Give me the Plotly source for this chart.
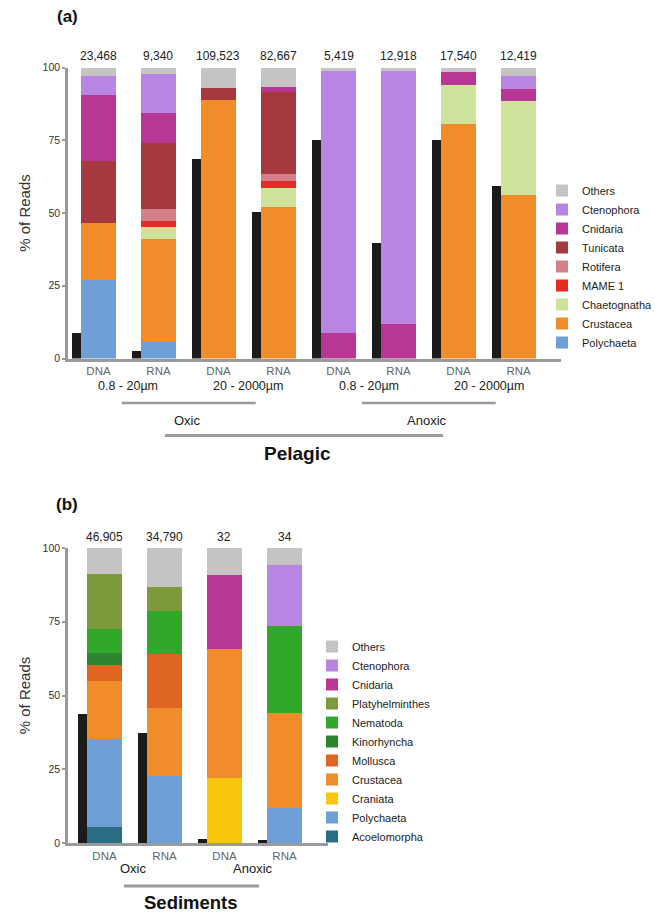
import plotly.graph_objects as go

W, H = 655, 915
FONT = "Liberation Sans, Arial, Helvetica, sans-serif"

# ---------------- Panel (a): Pelagic ----------------
pel_samples = ["DNA", "RNA", "DNA", "RNA", "DNA", "RNA", "DNA", "RNA"]
pel_totals = ["23,468", "9,340", "109,523", "82,667", "5,419", "12,918", "17,540", "12,419"]
pel_black = [9.1, 2.6, 68.9, 50.4, 75.4, 40.0, 75.4, 59.6]
pel_sizes = ["0.8 - 20µm", "20 - 2000µm", "0.8 - 20µm", "20 - 2000µm"]
pel_oxygen = ["Oxic", "Anoxic"]

pel_polychaeta = [27.1, 5.7, 0, 0, 0, 0, 0, 0]
pel_crustacea = [19.5, 35.6, 88.9, 52.1, 0, 0, 80.9, 56.2]
pel_chaetognatha = [0, 3.9, 0, 6.5, 0, 0, 13.1, 32.3]
pel_mame1 = [0, 2.1, 0, 2.4, 0, 0, 0, 0]
pel_rotifera = [0, 4.1, 0, 2.7, 0, 0, 0, 0]
pel_tunicata = [21.3, 22.7, 4.4, 27.9, 0, 0, 0, 0]
pel_cnidaria = [22.7, 10.3, 0, 2.0, 9.1, 12.2, 4.5, 4.4]
pel_ctenophora = [6.5, 13.7, 0, 0, 90.0, 86.6, 0, 4.2]
pel_others = [2.9, 1.9, 6.7, 6.4, 0.9, 1.2, 1.5, 2.9]

# ---------------- Panel (b): Sediments ----------------
sed_samples = ["DNA", "RNA", "DNA", "RNA"]
sed_totals = ["46,905", "34,790", "32", "34"]
sed_black = [43.7, 37.3, 1.4, 1.0]
sed_oxygen = ["Oxic", "Anoxic"]

sed_acoelomorpha = [5.4, 0, 0, 0]
sed_polychaeta = [29.9, 22.7, 0, 12.0]
sed_craniata = [0, 0, 22.0, 0]
sed_crustacea = [19.6, 23.1, 43.8, 32.1]
sed_mollusca = [5.4, 18.4, 0, 0]
sed_kinorhyncha = [4.1, 0, 0, 0]
sed_nematoda = [8.1, 14.4, 0, 29.5]
sed_platyhelminthes = [18.7, 8.2, 0, 0]
sed_cnidaria = [0, 0, 25.0, 0]
sed_ctenophora = [0, 0, 0, 20.6]
sed_others = [8.8, 13.2, 9.2, 5.8]

COLORS = {
    "Others": "#C5C4C2",
    "Ctenophora": "#B886E2",
    "Cnidaria": "#B83795",
    "Tunicata": "#A5393F",
    "Rotifera": "#D48088",
    "MAME 1": "#E52B25",
    "Chaetognatha": "#CDE39C",
    "Crustacea": "#F18C2A",
    "Polychaeta": "#6E9FD6",
    "Platyhelminthes": "#7D9A3C",
    "Nematoda": "#32A82A",
    "Kinorhyncha": "#2D8431",
    "Mollusca": "#DE6620",
    "Craniata": "#F8C50F",
    "Acoelomorpha": "#2A6C82",
}
BLACK = "#1C1A1B"

pel_stack = [
    ("Polychaeta", pel_polychaeta), ("Crustacea", pel_crustacea),
    ("Chaetognatha", pel_chaetognatha), ("MAME 1", pel_mame1),
    ("Rotifera", pel_rotifera), ("Tunicata", pel_tunicata),
    ("Cnidaria", pel_cnidaria), ("Ctenophora", pel_ctenophora),
    ("Others", pel_others),
]
sed_stack = [
    ("Acoelomorpha", sed_acoelomorpha), ("Polychaeta", sed_polychaeta),
    ("Craniata", sed_craniata), ("Crustacea", sed_crustacea),
    ("Mollusca", sed_mollusca), ("Kinorhyncha", sed_kinorhyncha),
    ("Nematoda", sed_nematoda), ("Platyhelminthes", sed_platyhelminthes),
    ("Cnidaria", sed_cnidaria), ("Ctenophora", sed_ctenophora),
    ("Others", sed_others),
]

STACK_W = 35 / 60
BLACK_W = 9 / 60
BLACK_OFF = -22 / 60


def px_x(p):
    return p / W


def px_y(p):
    return 1 - p / H


fig = go.Figure()

pel_x = list(range(len(pel_samples)))
sed_x = list(range(len(sed_samples)))

fig.add_trace(go.Bar(x=[i + BLACK_OFF for i in pel_x], y=pel_black, width=BLACK_W,
                     marker=dict(color=BLACK, line=dict(width=0)), showlegend=False,
                     xaxis="x", yaxis="y", name="fraction"))
for name, vals in pel_stack:
    fig.add_trace(go.Bar(x=pel_x, y=vals, width=STACK_W, name=name,
                         marker=dict(color=COLORS[name], line=dict(width=0)),
                         xaxis="x", yaxis="y", legend="legend"))

fig.add_trace(go.Bar(x=[i + BLACK_OFF for i in sed_x], y=sed_black, width=BLACK_W,
                     marker=dict(color=BLACK, line=dict(width=0)), showlegend=False,
                     xaxis="x2", yaxis="y2", name="fraction"))
for name, vals in sed_stack:
    fig.add_trace(go.Bar(x=sed_x, y=vals, width=STACK_W, name=name,
                         marker=dict(color=COLORS[name], line=dict(width=0)),
                         xaxis="x2", yaxis="y2", legend="legend2"))

AX = "#9A9A9A"
common_x = dict(showgrid=False, zeroline=False, showline=True, linecolor=AX, linewidth=2.5,
                ticks="", tickfont=dict(size=11.5, color="#666666", family=FONT),
                fixedrange=True, automargin=False)
common_y = dict(showgrid=False, zeroline=False, showline=True, linecolor=AX, linewidth=2.5,
                ticks="outside", ticklen=3, tickwidth=2, tickcolor=AX, range=[0, 100],
                tickvals=[0, 25, 50, 75, 100], tickfont=dict(size=10.5, color="#333333", family=FONT),
                title=dict(text="% of Reads", font=dict(size=15, color="#333333", family=FONT), standoff=9),
                fixedrange=True, automargin=False)

fig.update_layout(
    width=W, height=H, margin=dict(l=0, r=0, t=0, b=0, autoexpand=False),
    paper_bgcolor="white", plot_bgcolor="white",
    barmode="stack", bargap=0,
    font=dict(family=FONT, color="#222222"),
    xaxis=dict(domain=[px_x(68), px_x(561)], range=[-0.508, 7.708],
               tickvals=pel_x, ticktext=pel_samples, anchor="y", **common_x),
    yaxis=dict(domain=[px_y(358.5), px_y(67.5)], anchor="x", **common_y),
    xaxis2=dict(domain=[px_x(68), px_x(328)], range=[-0.608, 3.725],
                tickvals=sed_x, ticktext=sed_samples, anchor="y2", **common_x),
    yaxis2=dict(domain=[px_y(843), px_y(548)], anchor="x2", **common_y),
    legend=dict(x=px_x(542), y=px_y(176), xanchor="left", yanchor="top",
                traceorder="reversed", font=dict(size=11, color="#222222", family=FONT),
                bgcolor="rgba(0,0,0,0)"),
    legend2=dict(x=px_x(312), y=px_y(632), xanchor="left", yanchor="top",
                 traceorder="reversed", font=dict(size=11, color="#222222", family=FONT),
                 bgcolor="rgba(0,0,0,0)"),
)

ann = []
shapes = []


def label(x, y, text, size, color="#222222", xref="paper", yref="paper", **kw):
    d = dict(x=x, y=y, xref=xref, yref=yref, text=text, showarrow=False,
             xanchor="center", yanchor="middle", font=dict(size=size, color=color, family=FONT))
    d.update(kw)
    ann.append(d)


# totals above bars
for i, t in zip(pel_x, pel_totals):
    label(i, 100, t, 12, xref="x", yref="y", yanchor="bottom", yshift=2)
for i, t in zip(sed_x, sed_totals):
    label(i, 100, t, 12, xref="x2", yref="y2", yanchor="bottom", yshift=2)

# panel labels
label(px_x(67), px_y(17), "<b>(a)</b>", 17, color="#111111")
label(px_x(67), px_y(505), "<b>(b)</b>", 17, color="#111111")

# size-fraction labels (pelagic)
for k, s in enumerate(pel_sizes):
    label(2 * k + 0.5, px_y(386), s, 12.5, xref="x")
# oxic/anoxic (pelagic)
for k, s in enumerate(pel_oxygen):
    label(4 * k + 1.48, px_y(420), s, 13, xref="x")
    shapes.append(dict(type="line", xref="x", yref="paper",
                       x0=4 * k + 0.39, x1=4 * k + 2.62, y0=px_y(403), y1=px_y(403),
                       line=dict(color=AX, width=2.5)))
shapes.append(dict(type="line", xref="x", yref="paper", x0=1.11, x1=5.74,
                   y0=px_y(435.5), y1=px_y(435.5), line=dict(color=AX, width=3)))
label(3.32, px_y(453), "<b>Pelagic</b>", 19, color="#111111", xref="x")

# sediments labels
for k, s in enumerate(sed_oxygen):
    label(2 * k + 0.48, px_y(868.5), s, 13, xref="x2")
shapes.append(dict(type="line", xref="x2", yref="paper", x0=0.325, x1=2.575,
                   y0=px_y(886), y1=px_y(886), line=dict(color=AX, width=3)))
label(1.44, px_y(902), "<b>Sediments</b>", 18.5, color="#111111", xref="x2")

fig.update_layout(annotations=ann, shapes=shapes)
fig.write_html("out.html", config={"displayModeBar": False},
               post_script="document.body.style.margin='0px';")
